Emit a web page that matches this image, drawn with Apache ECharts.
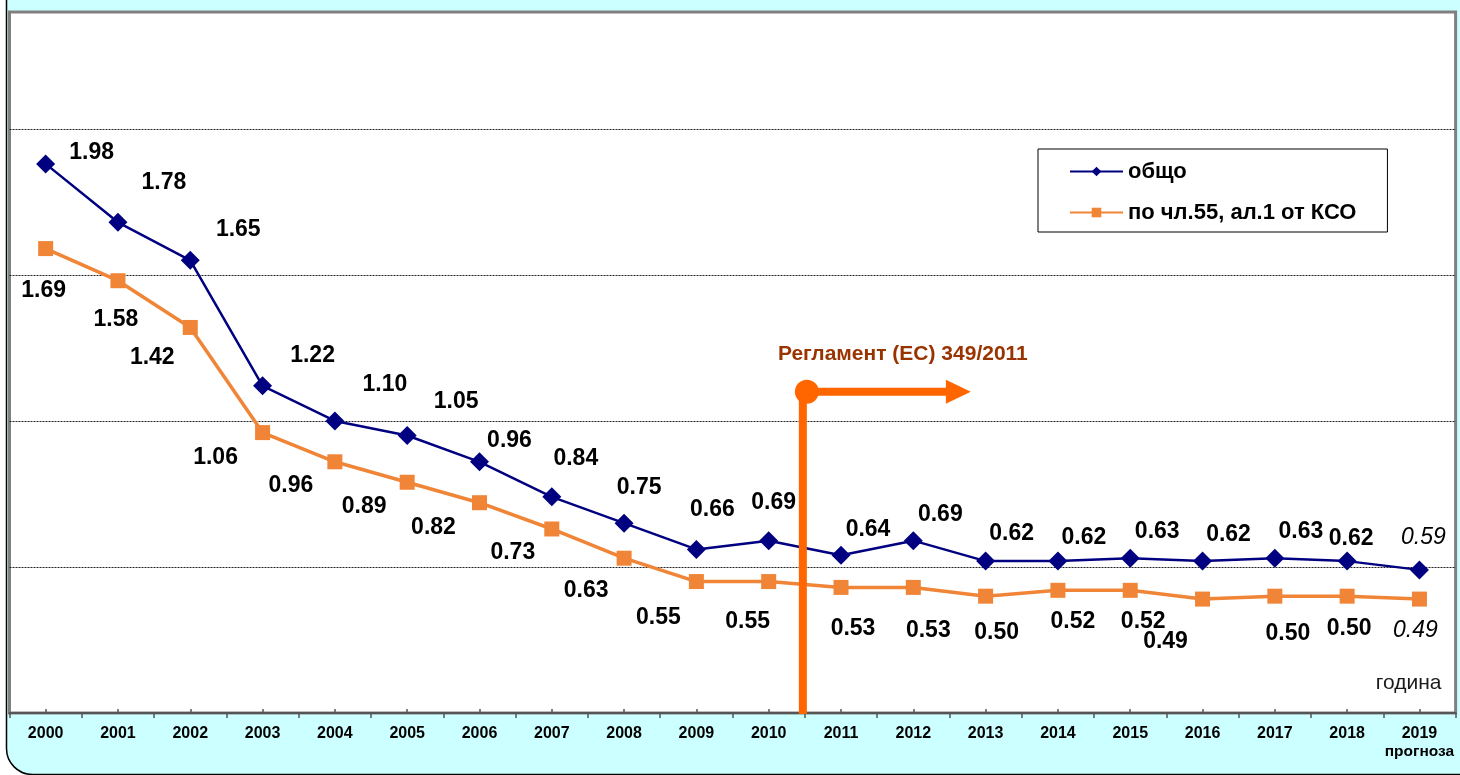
<!DOCTYPE html>
<html>
<head>
<meta charset="utf-8">
<script src="https://cdn.jsdelivr.net/npm/echarts@6/dist/echarts.min.js"></script>
<style>
  html, body { margin: 0; padding: 0; background: #fff; }
  #chart { width: 1460px; height: 775px; }
</style>
</head>
<body>
<div id="chart"></div>
<script>
// Years on the horizontal axis; the last one is a forecast
const years = ['2000', '2001', '2002', '2003', '2004', '2005', '2006', '2007', '2008', '2009',
               '2010', '2011', '2012', '2013', '2014', '2015', '2016', '2017', '2018', '2019'];
const forecastYear = '2019';
const forecastNote = 'прогноза';
const axisName = 'година';

// Series names
const totalName = 'общо';
const art55Name = 'по чл.55, ал.1 от КСО';

// Series values
const totalValues = [1.98, 1.78, 1.65, 1.22, 1.10, 1.05, 0.96, 0.84, 0.75, 0.66,
                     0.69, 0.64, 0.69, 0.62, 0.62, 0.63, 0.62, 0.63, 0.62, 0.59];
const art55Values = [1.69, 1.58, 1.42, 1.06, 0.96, 0.89, 0.82, 0.73, 0.63, 0.55,
                     0.55, 0.53, 0.53, 0.50, 0.52, 0.52, 0.49, 0.50, 0.50, 0.49];

// Value axis range and gridline step
const yMin = 0.1, yMax = 2.5, yStep = 0.5;

// Regulation marker: starts between 2010 and 2011 at the given level
const regulationText = 'Регламент (ЕС) 349/2011';
const regulationFrom = ['2010', '2011'];
const regulationLevel = 1.2;

// Label placement (pixel offsets of each value label from its point)
const totalLabelOffsets = [[46,-11],[46,-40],[48,-31],[50,-30],[50,-36],[49,-34],[30,-21],[24,-38],[15,-35],[16,-40],
                           [5,-38],[27,-26],[27,-26],[26,-27],[26,-23],[27,-27],[26,-26],[26,-27],[4,-22],[4,-32]];
const art55LabelOffsets = [[-2,42],[-2,39],[-38,30],[-47,25],[-44,24],[-43,24],[-46,25],[-39,24],[-38,32],[-38,36],
                           [-21,40],[12,41],[15,43],[11,36],[15,31],[13,31],[-37,43],[13,37],[2,32],[-4,32]];

const FONT = 'Arial, "Liberation Sans", Helvetica, sans-serif';
const NAVY = '#000080';
const ORANGE = '#F08537';
const MARK = '#FF6600';

function points(values, offsets) {
  return values.map((v, i) => {
    const forecast = years[i] === forecastYear;
    return {
      value: v,
      label: {
        offset: offsets[i],
        fontStyle: forecast ? 'italic' : 'normal',
        fontWeight: forecast ? 'normal' : 'bold'
      }
    };
  });
}

const valueLabel = {
  show: true,
  position: 'inside',
  align: 'center',
  verticalAlign: 'middle',
  fontFamily: FONT,
  fontSize: 23,
  color: '#000',
  formatter: p => Number(p.value).toFixed(2)
};

const background = {
  type: 'rect',
  z: -10,
  shape: { x: 6.5, y: -60, width: 1600, height: 834.5, r: 26 },
  style: { fill: '#CCFFFF', stroke: '#000', lineWidth: 1.5 }
};

const chart = echarts.init(document.getElementById('chart'), null, { renderer: 'canvas' });

chart.setOption({
  backgroundColor: 'transparent',
  animation: false,
  graphic: [background],
  grid: {
    left: 9.5, right: 4.4, top: 12, bottom: 62,
    show: true,
    backgroundColor: '#fff',
    borderColor: '#808080',
    borderWidth: 3
  },
  legend: {
    left: 1038, top: 149,
    orient: 'vertical',
    backgroundColor: '#fff',
    borderColor: '#000',
    borderWidth: 1,
    padding: [10, 31, 7, 31],
    itemWidth: 53,
    itemHeight: 12,
    itemGap: 16,
    textStyle: { fontFamily: FONT, fontSize: 22, fontWeight: 'bold', color: '#000', lineHeight: 25 },
    data: [totalName, art55Name]
  },
  xAxis: [{
    type: 'category',
    data: years,
    boundaryGap: true,
    position: 'bottom',
    axisLine: { show: true, lineStyle: { color: '#555', width: 2 } },
    axisTick: { show: true, inside: false, length: 5, lineStyle: { color: '#555', width: 1.5 } },
    axisLabel: {
      margin: 12,
      fontFamily: FONT,
      fontSize: 16,
      fontWeight: 'bold',
      color: '#000',
      lineHeight: 18,
      interval: 0,
      formatter: v => v === forecastYear ? v + '\n{note|' + forecastNote + '}' : v,
      rich: {
        note: { fontFamily: FONT, fontSize: 15.5, fontWeight: 'bold', color: '#000', lineHeight: 18 }
      }
    },
    splitLine: { show: false }
  }, {
    // short inner ticks centred on each year
    type: 'category',
    data: years,
    boundaryGap: true,
    position: 'bottom',
    axisLine: { show: false },
    axisTick: { show: true, inside: true, alignWithLabel: true, length: 4, lineStyle: { color: '#555', width: 1.5 } },
    axisLabel: { show: false },
    splitLine: { show: false }
  }],
  yAxis: {
    type: 'value',
    min: yMin,
    max: yMax,
    interval: yStep,
    axisLine: { show: false },
    axisTick: { show: false },
    axisLabel: { show: false },
    splitLine: {
      show: true,
      showMinLine: false,
      showMaxLine: false,
      lineStyle: { color: '#222', width: 1, type: [2, 1] }
    }
  },
  series: [{
    name: art55Name,
    type: 'line',
    data: points(art55Values, art55LabelOffsets),
    symbol: 'rect',
    symbolSize: 15,
    lineStyle: { color: ORANGE, width: 3.5 },
    itemStyle: { color: ORANGE },
    label: valueLabel,
    z: 3
  }, {
    name: totalName,
    type: 'line',
    data: points(totalValues, totalLabelOffsets),
    symbol: 'diamond',
    symbolSize: 19,
    lineStyle: { color: NAVY, width: 2.5 },
    itemStyle: { color: NAVY },
    label: valueLabel,
    z: 4
  }]
});

// Axis name at the lower right corner of the plot and the regulation marker,
// positioned through the chart's own coordinate conversion
const pA = chart.convertToPixel({ gridIndex: 0 }, [regulationFrom[0], regulationLevel]);
const pB = chart.convertToPixel({ gridIndex: 0 }, [regulationFrom[1], regulationLevel]);
const base = chart.convertToPixel({ gridIndex: 0 }, [years[years.length - 1], yMin]);
const ax = (pA[0] + pB[0]) / 2;
const ay = pA[1];

chart.setOption({
  graphic: [background, {
    type: 'text',
    z: 50,
    x: base[0] + 22, y: base[1] - 30,
    style: { text: axisName, fontFamily: FONT, fontSize: 21, fill: '#1a1a1a', align: 'right', verticalAlign: 'middle' }
  }, {
    type: 'line',
    z: 100,
    shape: { x1: ax - 2, y1: ay, x2: ax - 2, y2: base[1] + 1 },
    style: { stroke: MARK, lineWidth: 8 }
  }, {
    type: 'line',
    z: 100,
    shape: { x1: ax, y1: ay, x2: ax + 143, y2: ay },
    style: { stroke: MARK, lineWidth: 8 }
  }, {
    type: 'polygon',
    z: 100,
    shape: { points: [[ax + 141, ay - 12], [ax + 166, ay], [ax + 141, ay + 12]] },
    style: { fill: MARK }
  }, {
    type: 'circle',
    z: 101,
    shape: { cx: ax + 2, cy: ay, r: 12 },
    style: { fill: MARK }
  }, {
    type: 'text',
    z: 100,
    x: ax + 98, y: ay - 38,
    style: { text: regulationText, fontFamily: FONT, fontSize: 21, fontWeight: 'bold', fill: '#993300', align: 'center', verticalAlign: 'middle' }
  }]
});
</script>
</body>
</html>
